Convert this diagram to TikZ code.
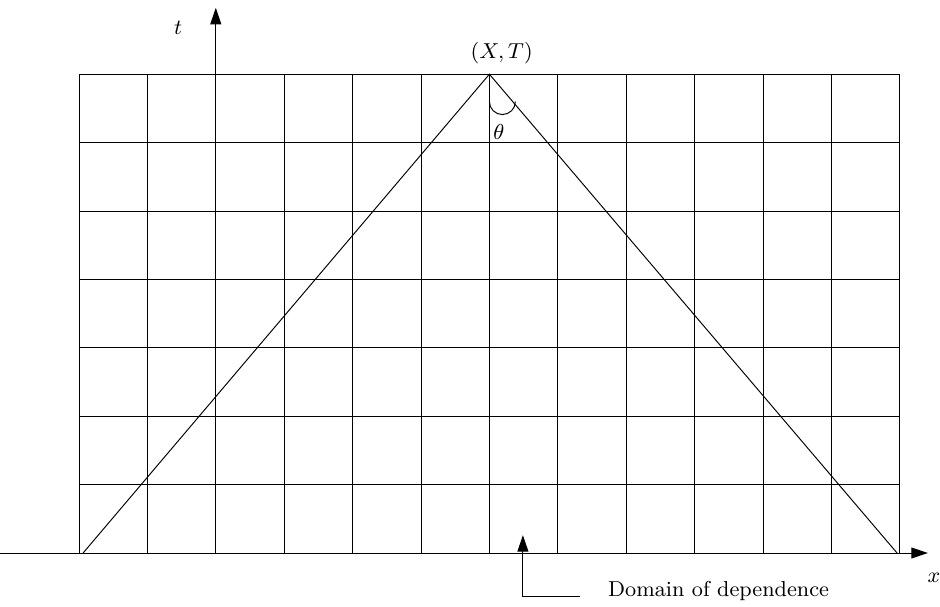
\documentclass[tikz,border=0pt]{standalone}
\usetikzlibrary{arrows.meta,positioning}

\begin{document}
\begin{tikzpicture}[font=\small,
    axisarrow/.style={-{Triangle[length=2.4mm,width=1.6mm]}}]
  \useasboundingbox (-1.155,-0.775) rectangle (12.588,8.085);

  % grid
  \foreach \x in {0,...,12} {
    \draw (\x,0) -- (\x,7);
  }
  \foreach \y in {1,...,7} {
    \draw (0,\y) -- (12,\y);
  }

  % x and t axes
  \coordinate (xstart) at (-1.155,0);
  \coordinate (xend) at (12.41,0);
  \coordinate (tstart) at (2,0);
  \coordinate (tend) at (2,7.97);
  \draw[axisarrow] (xstart) -- (xend);
  \draw[axisarrow] (tstart) -- (tend);
  \node (xlabel) at (12.5,-0.37) {$x$};
  \node (tlabel) at (1.45,7.68) {$t$};

  % characteristic lines through (X,T)
  \coordinate (apex) at (6,7);
  \coordinate (footL) at (0.06,0);
  \coordinate (footR) at (11.96,0);
  \draw (footL) -- (apex) -- (footR);
  \node (XT) at (6.18,7.31) {$(X,T)$};

  % angle at the apex
  \draw (6,6.6) arc[start angle=180, end angle=360, radius=0.19];
  \node (theta) at (6.14,6.15) {$\theta$};

  % domain of dependence label
  \coordinate (dtip) at (6.49,0.26);
  \coordinate (dcorner) at (6.49,-0.64);
  \coordinate (dend) at (7.32,-0.64);
  \node[anchor=base west, inner sep=0pt] (domain) at (7.73,-0.64)
    {Domain of dependence};
  \draw[axisarrow] (dend) -- (dcorner) -- (dtip);
\end{tikzpicture}
\end{document}
